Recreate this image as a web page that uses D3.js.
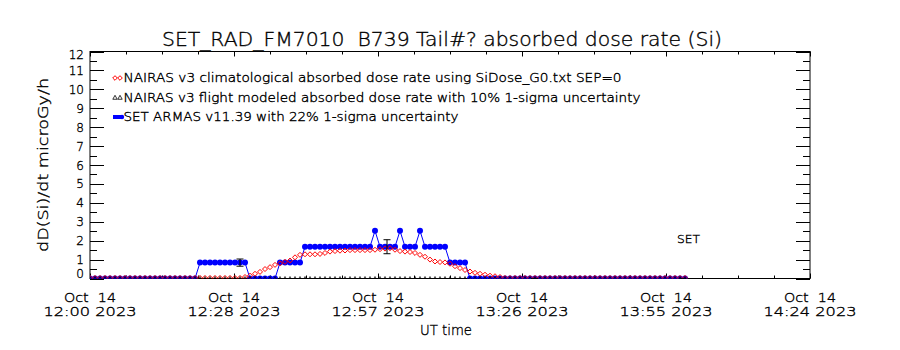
<!DOCTYPE html>
<html><head><meta charset="utf-8">
<script src="https://cdn.jsdelivr.net/npm/d3@7"></script>
<style>
body{margin:0;background:#fff}
svg{display:block}
text{font-family:"DejaVu Sans",sans-serif;font-weight:200;fill:#000;stroke:#000;stroke-width:0.35;white-space:pre}
</style>
</head><body>
<svg id="c" width="900" height="350"></svg>
<script>
// ---- data (minutes after 2023-10-14 12:00 UT) ----
const xTickMinutes = [0, 28.8, 57.6, 86.4, 115.2, 144];
const xTickDates = ["Oct  14","Oct  14","Oct  14","Oct  14","Oct  14","Oct  14"];
const xTickTimes = ["12:00 2023","12:28 2023","12:57 2023","13:26 2023","13:55 2023","14:24 2023"];
const yTickValues = [0,1,2,3,4,5,6,7,8,9,10,11,12];

const armasMin = [0,1,2,3,4,5,6,7,8,9,10,11,12,13,14,15,16,17,18,19,20,21,22,23,24,25,26,27,28,29,30,31,32,33,34,35,36,37,38,39,40,41,42,43,44,45,46,47,48,49,50,51,52,53,54,55,56,57,58,59,60,61,62,63,64,65,66,67,68,69,70,71,72,73,74,75,76,77,78,79,80,81,82,83,84,85,86,87,88,89,90,91,92,93,94,95,96,97,98,99,100,101,102,103,104,105,106,107,108,109,110,111,112,113,114,115,116,117,118,119];
const armasDose = [0,0,0,0,0,0,0,0,0,0,0,0,0,0,0,0,0,0,0,0,0,0,
  0.84,0.84,0.84,0.84,0.84,0.84,0.84,0.84,0.84,0.84,
  0,0,0,0,0,0,
  0.84,0.84,0.84,0.84,0.84,
  1.68,1.68,1.68,1.68,1.68,1.68,1.68,1.68,1.68,1.68,1.68,1.68,1.68,1.68,
  2.52,1.68,1.68,1.68,1.68,2.52,1.68,1.68,1.68,2.52,
  1.68,1.68,1.68,1.68,1.68,
  0.84,0.84,0.84,0.84,
  0,0,0,0,0,0,0,0,0,0,0,0,0,0,0,0,0,0,0,0,0,0,0,0,0,0,0,0,0,0,0,0,0,0,0,0,0,0,0,0,0,0,0,0];

const nairasMin = armasMin;
const nairasDose = [0.03,0.03,0.03,0.03,0.03,0.03,0.03,0.03,0.03,0.03,0.03,0.03,0.03,0.03,0.03,0.03,0.03,0.03,0.03,0.03,0.03,0.03,0.03,0.03,0.03,0.03,0.03,0.03,0.03,0.03,0.03,
  0.08,0.15,0.25,0.35,0.5,0.6,0.72,0.8,0.88,0.95,1.12,1.25,1.28,1.28,1.28,1.3,1.35,1.42,1.45,1.47,1.48,1.5,1.5,1.5,1.5,1.5,1.52,1.55,1.58,1.6,1.52,1.45,1.42,1.4,1.35,1.25,1.15,1.0,0.9,0.87,0.85,0.78,0.65,0.55,0.45,0.37,0.3,0.25,0.2,0.15,0.12,0.08,
  0.03,0.03,0.03,0.03,0.03,0.03,0.03,0.03,0.03,0.03,0.03,0.03,0.03,0.03,0.03,0.03,0.03,0.03,0.03,0.03,0.03,0.03,0.03,0.03,0.03,0.03,0.03,0.03,0.03,0.03,0.03,0.03,0.03,0.03,0.03,0.03,0.03];

const flightMin = armasMin;
const flightDose = [0,0,0,0,0,0,0,0,0,0,0,0,0,0,0,0,0,0,0,0,0,0,0,0,0,0,0,0,0,0,0,0,0,0,0,0,0,0,0,0,0,0,0,0,0,0,0,0,0,0,0,0,0,0,0,0,0,0,0,0,0,0,0,0,0,0,0,0,0,0,0,0,0,0,0,0,0,0,0,0,0,0,0,0,0,0,0,0,0,0,0,0,0,0,0,0,0,0,0,0,0,0,0,0,0,0,0,0,0,0,0,0,0,0,0,0,0,0,0,0];

const errMin = [30, 59.4, 88.9, 118.5];
const errDose = [0.84, 1.68, 0, 0];
const errSigma = [0.19, 0.37, 0, 0];

const titleText = "SET_RAD_FM7010  B739 Tail#? absorbed dose rate (Si)";
const yTitle = "dD(Si)/dt microGy/h";
const xTitle = "UT time";
const legendLabels = [
  "NAIRAS v3 climatological absorbed dose rate using SiDose_G0.txt SEP=0",
  "NAIRAS v3 flight modeled absorbed dose rate with 10% 1-sigma uncertainty",
  "SET ARMAS v11.39 with 22% 1-sigma uncertainty"];
const annotation = "SET";

// ---- layout ----
const L = 90, R = 810, T = 51.5, B = 278.5;
const RED = "#ff0000", BLUE = "#0000ff";
const svg = d3.select("#c");
const x = d3.scaleLinear().domain([0, 144]).range([L, R]);
const y = d3.scaleLinear().domain([0, 12]).range([B, T]);

const diamond = (cx, cy, s) => `M${cx},${cy-s}L${cx+s},${cy}L${cx},${cy+s}L${cx-s},${cy}Z`;
const tri = (cx, cy, s) => `M${cx},${cy-s}L${cx+s},${cy+s*0.8}L${cx-s},${cy+s*0.8}Z`;

// frame
svg.append("rect").attr("x", L).attr("y", T).attr("width", R-L).attr("height", B-T)
  .attr("fill","none").attr("stroke","#000").attr("stroke-width",1);

// y ticks
const yMinor = d3.range(0, 12.01, 0.5);
const tk = svg.append("g").attr("stroke","#000").attr("stroke-width",1);
yMinor.forEach(v => {
  const major = Math.abs(v - Math.round(v)) < 1e-6;
  const len = major ? 14 : 7;
  const yy = Math.round(y(v)) + 0.5;
  tk.append("line").attr("x1", L).attr("x2", L+len).attr("y1", yy).attr("y2", yy);
  tk.append("line").attr("x1", R).attr("x2", R-len).attr("y1", yy).attr("y2", yy);
});
// x ticks
d3.range(0, 144.01, 7.2).forEach((v, i) => {
  const major = i % 4 === 0;
  const len = major ? 5 : 3;
  const xx = Math.round(x(v)) + 0.5;
  tk.append("line").attr("x1", xx).attr("x2", xx).attr("y1", B).attr("y2", B-len);
  tk.append("line").attr("x1", xx).attr("x2", xx).attr("y1", T).attr("y2", T+len);
});

// y tick labels
yTickValues.forEach((v, i) => {
  let cy = y(v);
  if (i === 0) cy -= 5;
  if (i === yTickValues.length-1) cy += 3;
  svg.append("text").attr("x", 84).attr("y", cy + 4.5).attr("text-anchor","end")
    .attr("font-size", 12).text(v);
});
// x tick labels
xTickMinutes.forEach((m, i) => {
  svg.append("text").attr("x", x(m)).attr("y", 302).attr("text-anchor","middle")
    .attr("font-size", 12.5).attr("textLength", 52).attr("lengthAdjust","spacingAndGlyphs").text(xTickDates[i]);
  svg.append("text").attr("x", x(m)).attr("y", 315.5).attr("text-anchor","middle")
    .attr("font-size", 12.5).attr("textLength", 93).attr("lengthAdjust","spacingAndGlyphs").text(xTickTimes[i]);
});

// titles
svg.append("text").attr("x", 162).attr("y", 46).attr("font-size", 19)
  .attr("textLength", 560).attr("lengthAdjust","spacingAndGlyphs").text(titleText);
svg.append("text").attr("x", 446).attr("y", 335).attr("text-anchor","middle").attr("font-size", 14)
  .attr("textLength", 52).attr("lengthAdjust","spacingAndGlyphs").text(xTitle);
svg.append("text").attr("transform","translate(48,165) rotate(-90)").attr("text-anchor","middle")
  .attr("font-size", 14).attr("textLength", 174).attr("lengthAdjust","spacingAndGlyphs").text(yTitle);
svg.append("text").attr("x", 677).attr("y", 243).attr("font-size", 11)
  .attr("textLength", 23).attr("lengthAdjust","spacingAndGlyphs").text(annotation);

// clip
svg.append("clipPath").attr("id","pc").append("rect").attr("x", L).attr("y", T-6).attr("width", R-L).attr("height", B-T+6);
const plot = svg.append("g").attr("clip-path","url(#pc)");

// ARMAS - blue line + filled circles (drawn first, others on top)
const armas = armasMin.map((m, i) => [m, armasDose[i]]);
plot.append("path").datum(armas).attr("d", d3.line().x(d => x(d[0])).y(d => y(d[1])))
  .attr("fill","none").attr("stroke", BLUE).attr("stroke-width", 1);
plot.append("g").selectAll("circle").data(armas).join("circle")
  .attr("cx", d => x(d[0])).attr("cy", d => y(d[1])).attr("r", 3).attr("fill", BLUE);

// NAIRAS climatological - red diamonds
plot.append("g").selectAll("path").data(nairasMin).join("path")
  .attr("d", (m, i) => diamond(x(m), y(nairasDose[i]), 2.5))
  .attr("fill","none").attr("stroke", RED).attr("stroke-width", 1);

// NAIRAS flight - black triangles
plot.append("g").selectAll("path").data(flightMin).join("path")
  .attr("d", (m, i) => tri(x(m), y(flightDose[i]), 2))
  .attr("fill","none").attr("stroke", "#000").attr("stroke-width", 0.7);

// error bars
const eb = plot.append("g").attr("stroke","#000").attr("stroke-width",1);
errMin.forEach((m, i) => {
  const xx = x(m), y1 = y(errDose[i] - errSigma[i]), y2 = y(errDose[i] + errSigma[i]);
  eb.append("line").attr("x1", xx).attr("x2", xx).attr("y1", y1).attr("y2", y2);
  eb.append("line").attr("x1", xx-3.5).attr("x2", xx+3.5).attr("y1", y1).attr("y2", y1);
  eb.append("line").attr("x1", xx-3.5).attr("x2", xx+3.5).attr("y1", y2).attr("y2", y2);
});

// legend
const lg = svg.append("g");
const ly = [78, 97.5, 117];
lg.append("path").attr("d", diamond(115, ly[0], 2.3) + diamond(120, ly[0], 2.3))
  .attr("fill","none").attr("stroke", RED);
lg.append("path").attr("d", tri(115, ly[1], 2.2) + tri(120, ly[1], 2.2))
  .attr("fill","none").attr("stroke", "#000").attr("stroke-width", 0.8);
lg.append("rect").attr("x", 113).attr("y", ly[2]-2).attr("width", 10).attr("height", 4).attr("fill", BLUE);
lg.append("circle").attr("cx", 122).attr("cy", ly[2]).attr("r", 2.2).attr("fill", BLUE);
const lw = [498, 517, 335];
legendLabels.forEach((t, i) => {
  lg.append("text").attr("x", 123.5).attr("y", ly[i] + 4).attr("font-size", 11.5)
    .attr("textLength", lw[i]).attr("lengthAdjust","spacingAndGlyphs").text(t);
});
</script>
</body></html>
